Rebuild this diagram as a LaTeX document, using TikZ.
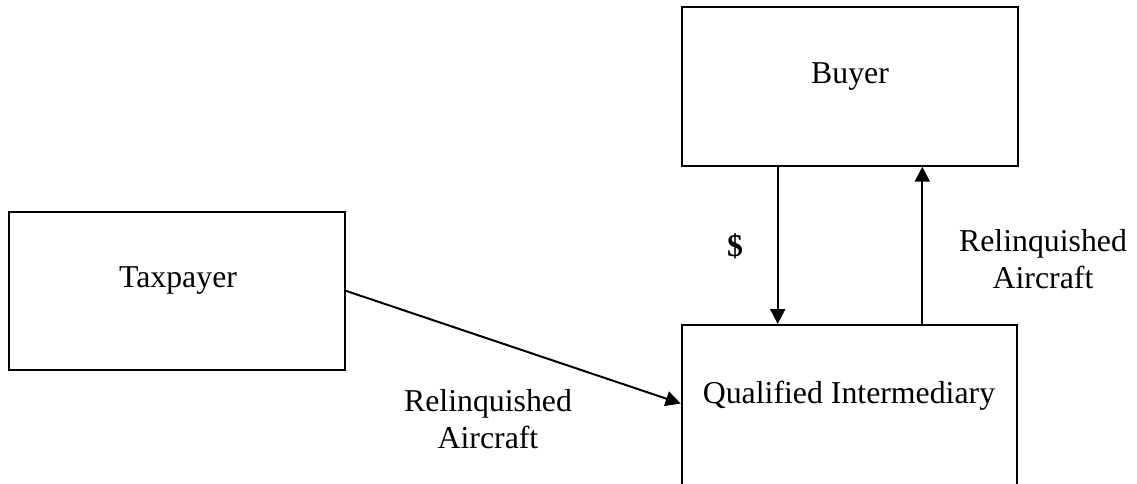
\documentclass[tikz,border=0pt]{standalone}
\usepackage{fontspec}
\setmainfont{Liberation Serif}
\usetikzlibrary{arrows.meta}
\begin{document}
\begin{tikzpicture}[x=1pt,y=-1pt,
  box/.style={draw,line width=2pt,rectangle,inner sep=0pt},
  txt/.style={font=\fontsize{31.8}{37}\selectfont,inner sep=0pt,align=center},
  arr/.style={line width=2pt,-{Triangle[length=15pt,width=15pt]}}]
\clip (0,0) rectangle (1137,483);
% boxes
\node[box,minimum width=336pt,minimum height=158.3pt] (tax) at (177,290.85) {};
\node[box,minimum width=336.3pt,minimum height=159pt] (buyer) at (849.85,86.2) {};
\node[box,minimum width=335.3pt,minimum height=170pt] (qi) at (849.35,410) {};
% box texts
\node[txt] (taxt) at (178,281) {Taxpayer};
\node[txt] (buyert) at (850,77) {Buyer};
\node[txt] (qit) at (849,396) {Qualified Intermediary};
% connectors
\coordinate (dx) at (777.7,0);
\coordinate (ux) at (922.3,0);
\coordinate (tip) at (qi.west |- 0,403.5);
\draw[arr] (buyer.south -| dx) -- (qi.north -| dx);
\draw[arr] (qi.north -| ux) -- (buyer.south -| ux);
\draw[arr] (tax.east) -- (tip);
% labels
\node[txt,font=\fontsize{31.8}{37}\selectfont\bfseries] (cash) at (735,246) {\$};
\node[txt] (l1) at (488,419) {Relinquished\\Aircraft};
\node[txt] (l2) at (1043,259) {Relinquished\\Aircraft};
\end{tikzpicture}
\end{document}
